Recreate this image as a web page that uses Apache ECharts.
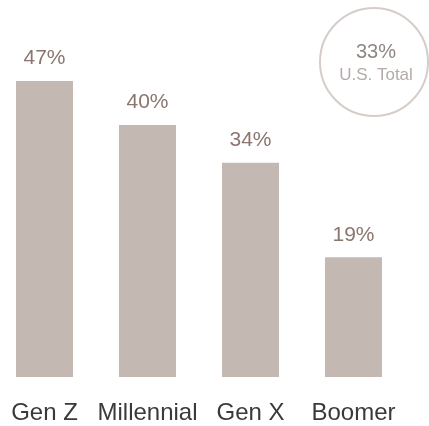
<!DOCTYPE html>
<html>
<head>
<meta charset="utf-8">
<script src="https://cdn.jsdelivr.net/npm/echarts@6/dist/echarts.min.js"></script>
<style>
  html, body { margin: 0; padding: 0; background: #fff; }
  #chart { width: 429px; height: 426px; }
</style>
</head>
<body>
<div id="chart"></div>
<script>
const generations = ["Gen Z", "Millennial", "Gen X", "Boomer"];
const shares = [47, 40, 34, 19];
const totalShare = 33;
const totalLabel = "U.S. Total";

const chart = echarts.init(document.getElementById("chart"));

chart.setOption({
  backgroundColor: "#fff",
  textStyle: { fontFamily: "Liberation Sans, Arial, sans-serif" },
  grid: { left: -7, right: 24, top: 62, bottom: 49, containLabel: false, outerBoundsMode: "none" },
  xAxis: {
    type: "category",
    data: generations,
    axisLine: { show: false },
    axisTick: { show: false },
    axisLabel: { color: "#3a3a3c", fontSize: 24, margin: 24, interval: 0, hideOverlap: false },
  },
  yAxis: {
    type: "value",
    min: 0,
    max: 50,
    show: false,
  },
  series: [
    {
      type: "bar",
      data: shares,
      barWidth: 57,
      itemStyle: { color: "#c4b8b2" },
      label: {
        show: true,
        position: "top",
        distance: 12,
        fontSize: 21,
        color: "#8a766f",
        formatter: "{c}%",
      },
    },
  ],
  graphic: [
    {
      type: "circle",
      shape: { cx: 374, cy: 62, r: 54 },
      style: { fill: "none", stroke: "#d6cdc9", lineWidth: 2 },
    },
    {
      type: "text",
      x: 376,
      y: 52,
      style: {
        text: totalShare + "%",
        fill: "#8f8683",
        fontSize: 20,
        fontFamily: "Liberation Sans, Arial, sans-serif",
        align: "center",
        verticalAlign: "middle",
      },
    },
    {
      type: "text",
      x: 376,
      y: 75,
      style: {
        text: totalLabel,
        fill: "#b3aba8",
        fontSize: 17,
        fontFamily: "Liberation Sans, Arial, sans-serif",
        align: "center",
        verticalAlign: "middle",
      },
    },
  ],
});
</script>
</body>
</html>
